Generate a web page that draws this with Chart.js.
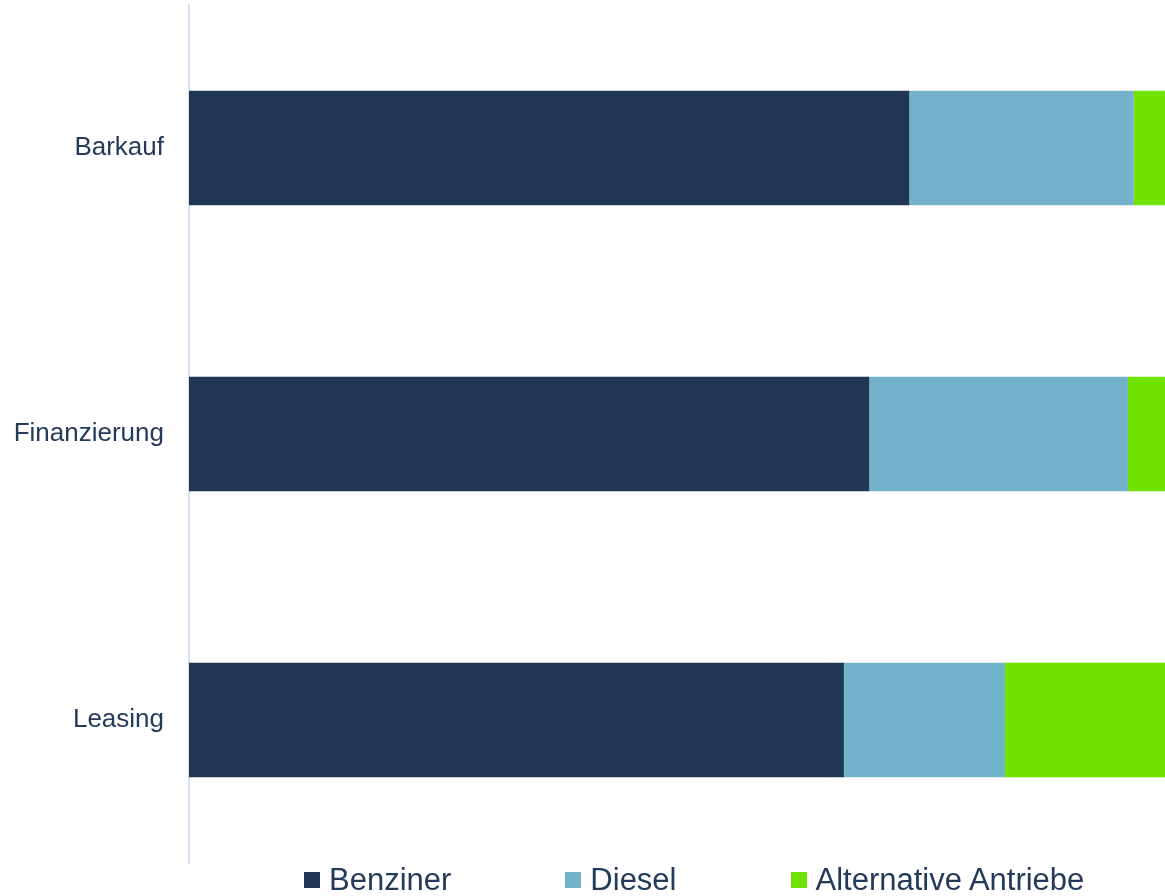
<!DOCTYPE html>
<html>
<head>
<meta charset="utf-8">
<script src="https://cdn.jsdelivr.net/npm/chart.js@4"></script>
<style>
   body { margin: 0; background: #fff; }
   #wrap { position: relative; width: 1165px; height: 896px; overflow: hidden; }
   #legend {
      position: absolute; left: 304px; top: 862px; height: 36px;
      display: flex; gap: 114px;
      font-family: "Liberation Sans", Arial, sans-serif; font-size: 31px;
      line-height: 36px; color: #243a5a; white-space: nowrap;
   }
   #legend .item { display: flex; align-items: center; }
   #legend .box { width: 16px; height: 16px; margin-right: 9px; }
</style>
</head>
<body>
<div id="wrap">
   <canvas id="chart" width="1165" height="896"></canvas>
   <div id="legend"></div>
</div>
<script>
const categories = ["Barkauf", "Finanzierung", "Leasing"]
const seriesNames = ["Benziner", "Diesel", "Alternative Antriebe"]
const benziner = [73.8, 69.7, 67.1]
const diesel = [23.0, 26.5, 16.5]
const alternativ = [3.2, 3.8, 16.4]

const colors = ["#213654", "#72b3cb", "#72e200"]
const textColor = "#243a5a"

const datasets = [benziner, diesel, alternativ].map((values, i) => ({
   label: seriesNames[i],
   data: values,
   backgroundColor: colors[i],
   borderWidth: 0,
   barPercentage: 0.4,
   categoryPercentage: 1.0
}))

new Chart(document.getElementById("chart"), {
   type: "bar",
   data: {
      labels: categories,
      datasets: datasets
   },
   options: {
      indexAxis: "y",
      responsive: false,
      animation: false,
      layout: {
         padding: { top: 5, bottom: 33, left: 0, right: 0 }
      },
      plugins: {
         legend: { display: false },
         tooltip: { enabled: true }
      },
      scales: {
         x: {
            stacked: true,
            min: 0,
            max: 100,
            display: false
         },
         y: {
            stacked: true,
            // feste breite, keine extra abstaende oben/unten
            afterFit: scale => {
               scale.width = 189
               scale.paddingTop = 0
               scale.paddingBottom = 0
            },
            border: {
               display: true,
               width: 2,
               color: "#d6e1ef"
            },
            grid: {
               display: false,
               drawTicks: false
            },
            ticks: {
               padding: 25,
               color: textColor,
               font: { family: "'Liberation Sans', Arial, sans-serif", size: 26 }
            }
         }
      }
   }
})

// legend als html unten
const legend = document.getElementById("legend")
datasets.forEach(ds => {
   const item = document.createElement("div")
   item.className = "item"
   item.innerHTML = `<span class="box" style="background:${ds.backgroundColor}"></span><span>${ds.label}</span>`
   legend.appendChild(item)
})
</script>
</body>
</html>
